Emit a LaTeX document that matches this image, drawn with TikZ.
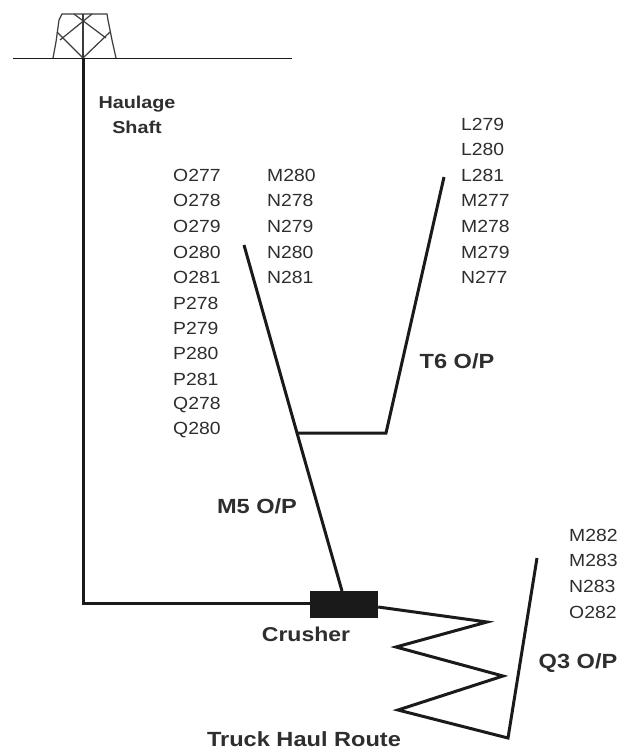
\documentclass[tikz,border=0pt]{standalone}
\usepackage{fontspec}
\setmainfont{Liberation Sans}
\newfontfamily\stretchfont[FakeStretch=1.1]{Liberation Sans}
\newfontfamily\widefont[FakeStretch=1.15]{Liberation Sans}
\definecolor{ink}{HTML}{1A1A1A}
\definecolor{lbl}{HTML}{2E2E2E}
\tikzset{
  x=1pt,y=-1pt,
  grid/.style={anchor=west,inner sep=0pt,text=lbl,font=\stretchfont\fontsize{17.6}{18}\selectfont},
  boldlbl/.style={inner sep=0pt,text=lbl,font=\widefont\bfseries\fontsize{20.5}{25}\selectfont,align=center},
  crushlbl/.style={inner sep=0pt,text=lbl,font=\widefont\bfseries\fontsize{20}{25}\selectfont,align=center},
  smallbold/.style={inner sep=0pt,text=lbl,font=\widefont\bfseries\fontsize{17.2}{25}\selectfont,align=center},
  route/.style={draw=ink,line width=3pt,line join=miter},
  thin line/.style={draw=ink,line width=1.5pt},
  rig/.style={draw=ink!85,line width=1.2pt}
}
\begin{document}
\begin{tikzpicture}
\useasboundingbox (0,0) rectangle (619,750);
\fill[white] (0,0) rectangle (619,750);
% surface and headframe
\coordinate (sl) at (13,58.5); \coordinate (sr) at (292,58.5);
\coordinate (top) at (83,58);
\draw[thin line] (sl) -- (sr);
\draw[rig] (53,58) -- (56,42) -- (59,20) -- (62,14) -- (107,14) -- (108,20) -- (112,40) -- (116,58);
\draw[rig] (83,14) -- (83,58);
\draw[rig] (57,32) -- (83,58) -- (110,32);
\draw[rig] (60,40) -- (92,14);
\draw[rig] (106,38) -- (74,14);
% named points
\coordinate (corner) at (83,603);
\node[fill=ink,minimum width=68pt,minimum height=27pt,inner sep=0pt] (crusher) at (344,604) {};
\coordinate (m5top) at (244,245);
\coordinate (m5j) at (297,433);
\coordinate (m5end) at (342,591);
\coordinate (t6b) at (386,433);
\coordinate (t6top) at (444,177);
\coordinate (z1) at (487,622);
\coordinate (z2) at (396,647);
\coordinate (z3) at (503,676);
\coordinate (z4) at (398,710);
\coordinate (z5) at (508,738);
\coordinate (q3top) at (537,558);
% routes
\draw[route] (top) -- (corner) -- (crusher.west |- corner);
\draw[route] (m5top) -- (m5j) -- (m5end);
\draw[route] (m5j) -- (t6b) -- (t6top);
\draw[route] (crusher.east |- 0,607) -- (z1) -- (z2) -- (z3) -- (z4) -- (z5) -- (q3top);
% labels
\node[smallbold] (haul) at (137,115) {Haulage\\Shaft};
\foreach \t/\y [count=\i] in {O277/175,O278/200,O279/226,O280/252,O281/277,P278/303,P279/328,P280/353,P281/379,Q278/405,Q280/430}
  \node[grid] (a\i) at (173,\y) {\t};
\foreach \t/\y [count=\i] in {M280/175,N278/200,N279/226,N280/252,N281/277}
  \node[grid] (b\i) at (267,\y) {\t};
\foreach \t/\y [count=\i] in {L279/124,L280/149,L281/175,M277/200,M278/226,M279/252,N277/277}
  \node[grid] (c\i) at (461,\y) {\t};
\foreach \t/\y [count=\i] in {M282/535,M283/560,N283/586,O282/612}
  \node[grid] (d\i) at (569,\y) {\t};
\node[boldlbl] (t6) at (457,361) {T6 O/P};
\node[boldlbl] (m5) at (257,506) {M5 O/P};
\node[boldlbl] (q3) at (578,663) {Q3 O/P};
\node[crushlbl] (cr) at (306,634) {Crusher};
\node[boldlbl] (tr) at (304,739) {Truck Haul Route};
\end{tikzpicture}
\end{document}
